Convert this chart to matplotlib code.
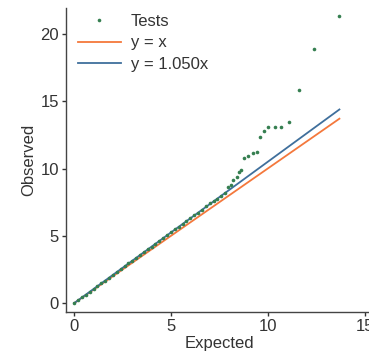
import numpy as np
import matplotlib.pyplot as plt

plt.rcParams['font.family'] = ['Liberation Sans', 'DejaVu Sans']

# QQ points
expected = [0.0, 0.2, 0.4, 0.6, 0.8, 1.0, 1.2, 1.4, 1.6, 1.8, 2.0, 2.2, 2.4, 2.6, 2.8,
            3.0, 3.2, 3.4, 3.6, 3.8, 4.0, 4.2, 4.4, 4.6, 4.8, 5.0, 5.2, 5.4, 5.6, 5.8,
            6.0, 6.2, 6.4, 6.6, 6.8, 7.0, 7.2, 7.4, 7.6, 7.8,
            7.95, 8.09, 8.21, 8.39, 8.51, 8.61, 8.78, 8.99, 9.22, 9.43, 9.6, 9.82,
            10.03, 10.35, 10.69, 11.08, 11.63, 12.38, 13.68]
observed = [0.01, 0.22, 0.43, 0.64, 0.85, 1.06, 1.27, 1.47, 1.68, 1.89, 2.10, 2.31, 2.53, 2.74, 2.95,
            3.15, 3.36, 3.57, 3.78, 3.99, 4.20, 4.42, 4.63, 4.84, 5.05, 5.27, 5.50, 5.68, 5.88, 6.09,
            6.30, 6.52, 6.73, 6.95, 7.18, 7.45, 7.62, 7.76, 7.95, 8.18,
            8.65, 8.77, 9.14, 9.39, 9.76, 9.89, 10.76, 10.93, 11.17, 11.2, 12.37, 12.8,
            13.06, 13.06, 13.1, 13.48, 15.84, 18.9, 21.36]
slope = 1.050
x_line = [0.0, 13.7]

fig = plt.figure(figsize=(3.69, 3.58), dpi=100)
ax = fig.add_axes([0.179, 0.128, 0.83, 0.85])

ax.plot(expected, observed, 'o', color='#357f50', markersize=2.6, markeredgewidth=0,
        label='Tests', zorder=3)
ax.plot(x_line, x_line, color='#f4783c', lw=1.3, label='y = x')
ax.plot(x_line, [slope * v for v in x_line], color='#3f6f9c', lw=1.3,
        label='y = %.3fx' % slope)

ax.set_xlim(-0.42, 15.4)
ax.set_ylim(-0.67, 21.93)
ax.set_xticks([0, 5, 10, 15])
ax.set_yticks([0, 5, 10, 15, 20])
ax.set_xlabel('Expected', fontsize=12, color='#333333', labelpad=1)
ax.set_ylabel('Observed', fontsize=12, color='#333333', labelpad=3)

for s in ['top', 'right']:
    ax.spines[s].set_visible(False)
for s in ['left', 'bottom']:
    ax.spines[s].set_color('#444444')
    ax.spines[s].set_linewidth(1.0)
ax.tick_params(labelsize=12, colors='#333333', length=3, width=1, pad=2)

leg = ax.legend(loc='upper left', frameon=False, fontsize=12, handlelength=2.6,
                handletextpad=0.6, labelspacing=0.38, labelcolor='#333333',
                borderaxespad=0.3, bbox_to_anchor=(0.0, 1.018))

fig.savefig('out.png', dpi=100)
